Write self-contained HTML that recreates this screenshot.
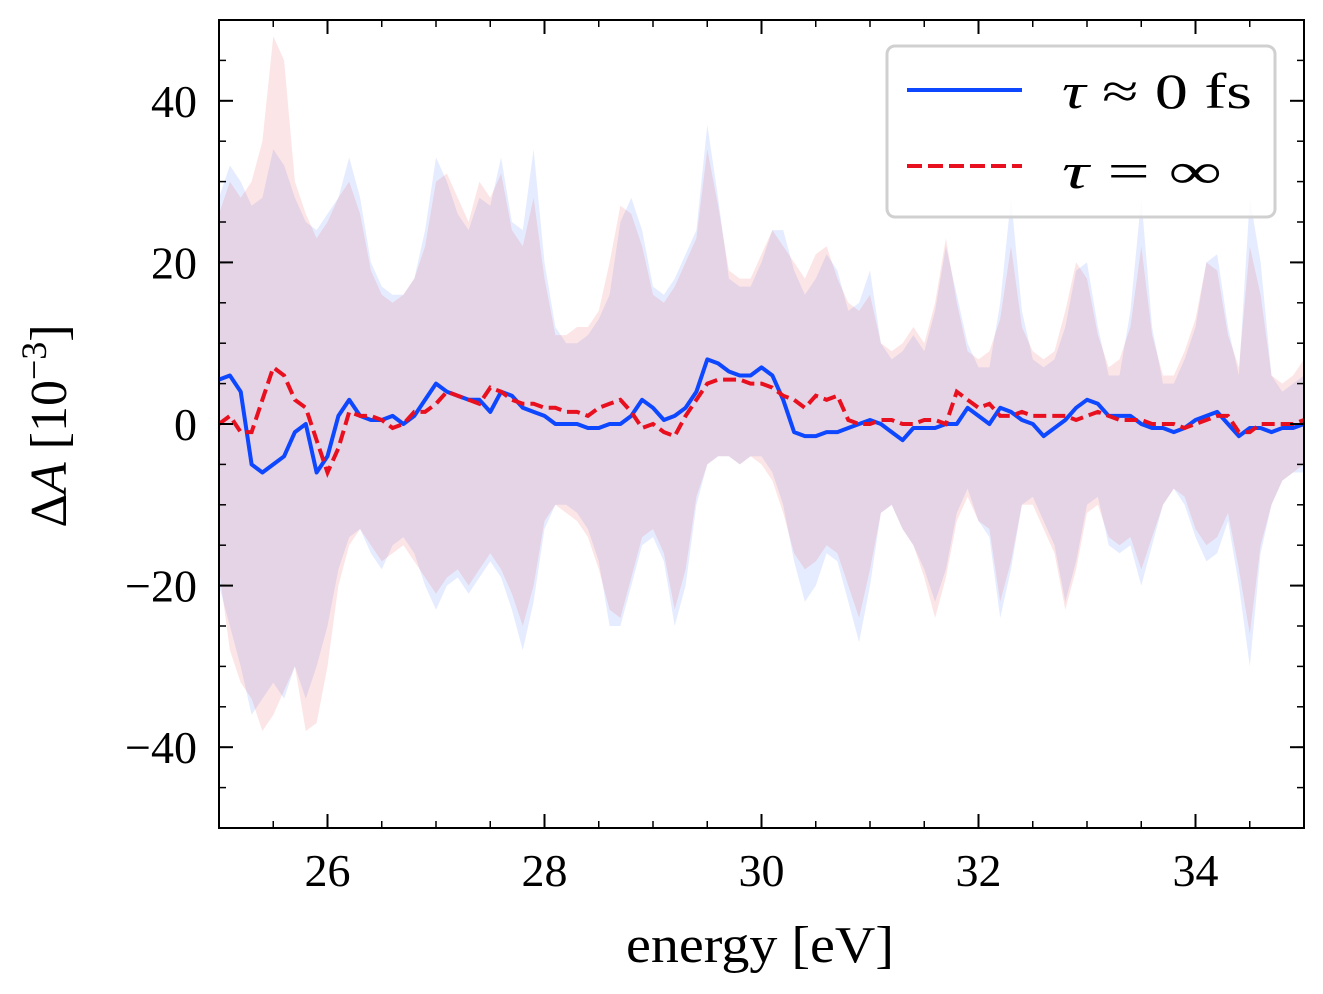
<!DOCTYPE html>
<html><head><meta charset="utf-8"><style>
html,body{margin:0;padding:0;background:#fff;}
svg{display:block;font-family:"Liberation Serif","DejaVu Serif",serif;}
</style></head><body>
<svg id="chart" width="1323" height="994" viewBox="0 0 1323 994" xmlns="http://www.w3.org/2000/svg">
<g id="bands"></g>
<g id="lines"></g>
<g id="axes"></g>
<text x="760" y="962" font-size="52" text-anchor="middle" textLength="268" lengthAdjust="spacingAndGlyphs">energy [eV]</text>
<text transform="translate(66,426) rotate(-90)" font-size="52" text-anchor="middle"><tspan>Δ</tspan><tspan font-style="italic">A</tspan><tspan> [10</tspan><tspan font-size="36" dy="-20">−3</tspan><tspan dy="20">]</tspan></text>
<g>
<rect x="887" y="46" width="388" height="171" rx="8" fill="#fff" fill-opacity="0.85" stroke="#d0d0d0" stroke-width="3"/>
<line x1="907" y1="90" x2="1022" y2="90" stroke="#0d47ff" stroke-width="4"/>
<text x="1062" y="108" font-size="50" textLength="190" lengthAdjust="spacingAndGlyphs"><tspan font-style="italic">τ</tspan> ≈ 0 fs</text>
<line x1="907" y1="166" x2="1022" y2="166" stroke="#e8101f" stroke-width="4" stroke-dasharray="15,6"/>
<text x="1062" y="188" font-size="50" textLength="160" lengthAdjust="spacingAndGlyphs"><tspan font-style="italic">τ</tspan> = ∞</text>
</g>
</svg>
<script>
const energies = [];
for (let i = 0; i <= 100; i++) energies.push(25 + i * 0.1);
const blueLine = [5.5,6,4,-5,-6,-5,-4,-1,0,-6,-4,1,3,1,0.5,0.5,1,0,1,3,5,4,3.5,3,3,1.5,4,3.5,2,1.5,1,0,0,0,-0.5,-0.5,0,0,1,3,2,0.5,1,2,4,8,7.5,6.5,6,6,7,6,3,-1,-1.5,-1.5,-1,-1,-0.5,0,0.5,0,-1,-2,-0.5,-0.5,-0.5,0,0,2,1,0,2,1.5,0.5,0,-1.5,-0.5,0.5,2,3,2.5,1,1,1,0,-0.5,-0.5,-1,-0.5,0.5,1,1.5,0,-1.5,-0.5,-0.5,-1,-0.5,-0.5,0];
const redLine = [0,1,-1,-1,3,7,6,3,2,-2,-6,-3,1.5,1,1,0.5,-0.5,0,1.5,1.5,2.5,4,3.5,3,2.5,4.5,4,3,2.5,2.5,2,2,1.5,1.5,1,2,2.5,3,1.5,-0.5,0,-1,-1.5,1,3,5,5.5,5.5,5.5,5,5,4.5,3.5,3,2,3.5,3,3.5,0.5,0,0,0.5,0.5,0,0,0.5,0.5,0,4,3,2,2.5,1,1,1.5,1,1,1,1,0.5,1,1.5,1,0.5,0.5,0.5,0,0,0,-0.5,0,0.5,1,1,-1,-1,0,0,0,0,0.5];
const blueUpper = [28,32,30,27,28,34,32,28,25,24,26,28,33,28,20,17,16,16,18,24,33,30,26,24,28,27,33,25,24,34,20,12,10,10,11,13,16,25,28,24,17,16,18,21,24,37,28,18,17,17,20,24,24,19,16,18,21,19,14,15,19,10,8,9,11,9,14,22,16,10,7,7,15,28,14,8,7,8,12,19,20,12,6,6,14,28,12,5,5,8,12,20,21,12,6,28,20,6,4,5,6];
const redUpper = [26,30,28,30,35,48,45,30,26,23,25,28,30,26,19,16,15,16,18,22,30,31,28,25,30,28,31,24,22,28,18,11,11,12,12,14,20,27,26,22,16,15,17,20,23,34,27,19,18,18,21,24,22,20,18,21,22,18,15,14,16,10,9,10,12,10,15,23,15,9,8,9,13,22,12,9,8,9,14,20,18,11,7,8,12,22,11,6,6,9,13,20,19,11,7,22,16,6,5,6,8];
const blueLower = [-20,-25,-30,-36,-34,-32,-34,-30,-34,-30,-25,-18,-14,-13,-16,-18,-15,-14,-16,-20,-23,-20,-19,-21,-19,-17,-19,-23,-28,-22,-13,-10,-10,-11,-13,-17,-25,-25,-20,-15,-14,-17,-25,-20,-10,-5,-4,-4,-5,-4,-4,-6,-10,-17,-22,-20,-16,-17,-22,-27,-20,-11,-10,-13,-15,-18,-22,-18,-11,-8,-12,-14,-24,-18,-10,-9,-12,-15,-22,-17,-10,-9,-15,-16,-15,-20,-15,-10,-8,-10,-14,-17,-16,-12,-20,-30,-16,-10,-7,-6,-6];
const redLower = [-18,-28,-32,-34,-38,-36,-33,-30,-38,-37,-30,-20,-15,-13,-15,-17,-16,-15,-17,-19,-21,-19,-18,-20,-18,-16,-18,-21,-25,-20,-12,-10,-11,-12,-14,-18,-23,-24,-19,-14,-13,-16,-23,-18,-9,-5,-4,-4,-5,-4,-5,-7,-11,-16,-18,-17,-15,-16,-20,-24,-18,-11,-10,-13,-15,-19,-24,-19,-12,-9,-12,-13,-22,-17,-10,-10,-13,-16,-23,-18,-11,-10,-14,-15,-14,-18,-14,-10,-8,-9,-13,-15,-14,-11,-18,-26,-15,-10,-7,-6,-5];
const xTicks = [26,28,30,32,34];
const yTicks = [-40,-20,0,20,40];

const X0=219,X1=1304,Y0=20,Y1=828, XMIN=25,XMAX=35,YMIN=-50,YMAX=50;
const sx = v => X0 + (v-XMIN)/(XMAX-XMIN)*(X1-X0);
const sy = v => Y1 - (v-YMIN)/(YMAX-YMIN)*(Y1-Y0);
const NS='http://www.w3.org/2000/svg';
function mk(tag, attrs, parent){const e=document.createElementNS(NS,tag);for(const k in attrs)e.setAttribute(k,attrs[k]);parent.appendChild(e);return e;}
const bands=document.getElementById('bands'), lines=document.getElementById('lines'), axes=document.getElementById('axes');
function bandPath(up,lo){let d='';energies.forEach((x,i)=>{d+=(i?'L':'M')+sx(x).toFixed(1)+','+sy(up[i]).toFixed(1);});for(let i=energies.length-1;i>=0;i--)d+='L'+sx(energies[i]).toFixed(1)+','+sy(lo[i]).toFixed(1);return d+'Z';}
function linePath(v){return energies.map((x,i)=>(i?'L':'M')+sx(x).toFixed(1)+','+sy(v[i]).toFixed(1)).join('');}
let b1=mk('path',{d:bandPath(blueUpper,blueLower),fill:'#0d47ff','fill-opacity':'0.1'},bands);


let b2=mk('path',{d:bandPath(redUpper,redLower),fill:'#e8101f','fill-opacity':'0.11'},bands);


let l1=mk('path',{d:linePath(blueLine),fill:'none',stroke:'#0d47ff','stroke-width':'4','stroke-linejoin':'round'},lines);


let l2=mk('path',{d:linePath(redLine),fill:'none',stroke:'#e8101f','stroke-width':'4','stroke-dasharray':'13,6'},lines);


let fr=mk('rect',{x:X0,y:Y0,width:X1-X0,height:Y1-Y0,fill:'none',stroke:'#000','stroke-width':'2'},axes);


for(let v=25.5; v<35; v+=0.5){const x=sx(v);mk('line',{x1:x,y1:Y1,x2:x,y2:Y1-7,stroke:'#000','stroke-width':'1.5'},axes);mk('line',{x1:x,y1:Y0,x2:x,y2:Y0+7,stroke:'#000','stroke-width':'1.5'},axes);}
for(let v=-45; v<50; v+=5){const y=sy(v);mk('line',{x1:X0,y1:y,x2:X0+7,y2:y,stroke:'#000','stroke-width':'1.5'},axes);mk('line',{x1:X1,y1:y,x2:X1-7,y2:y,stroke:'#000','stroke-width':'1.5'},axes);}
xTicks.forEach(v=>{const x=sx(v);mk('line',{x1:x,y1:Y1,x2:x,y2:Y1-14,stroke:'#000','stroke-width':'2'},axes);mk('line',{x1:x,y1:Y0,x2:x,y2:Y0+14,stroke:'#000','stroke-width':'2'},axes);
 const t=mk('text',{x:x,y:886,'font-size':'46','text-anchor':'middle'},axes);t.textContent=String(v);
 
 });
yTicks.forEach(v=>{const y=sy(v);mk('line',{x1:X0,y1:y,x2:X0+14,y2:y,stroke:'#000','stroke-width':'2'},axes);mk('line',{x1:X1,y1:y,x2:X1-14,y2:y,stroke:'#000','stroke-width':'2'},axes);
 const t=mk('text',{x:197,y:y+16,'font-size':'46','text-anchor':'end'},axes);t.textContent=v<0?'−'+Math.abs(v):String(v);
 
 });
</script>
</body></html>
